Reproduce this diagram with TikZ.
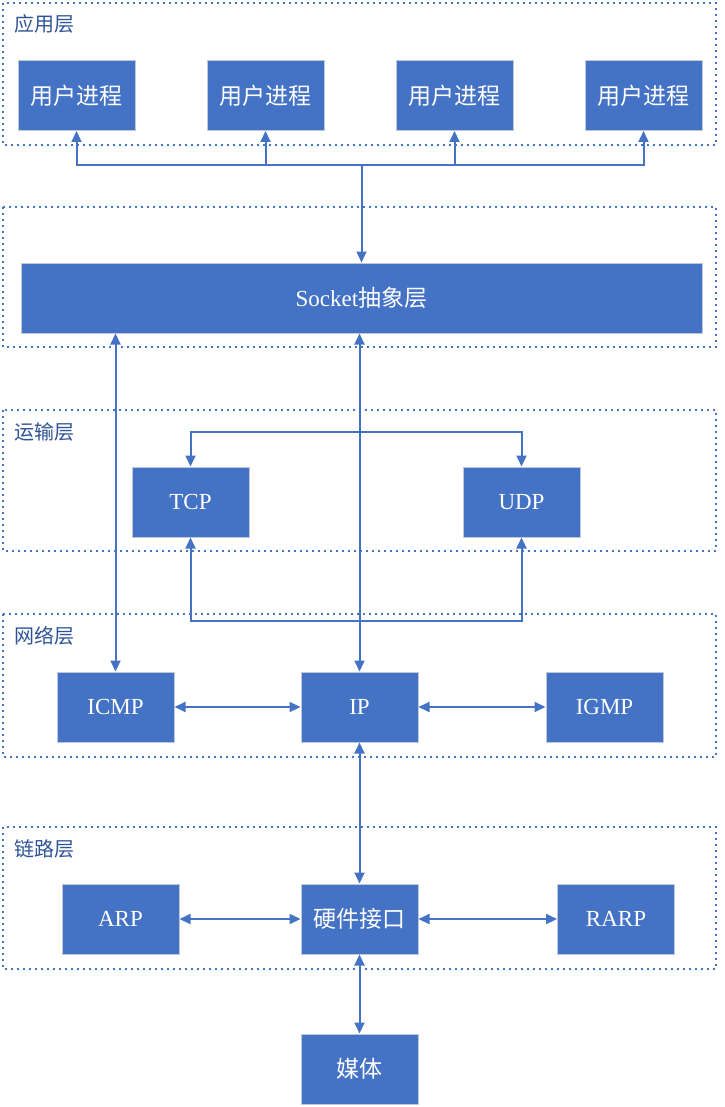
\documentclass[tikz,border=0pt]{standalone}
\usepackage{fontspec}
\setmainfont{Liberation Serif}
\newfontfamily\cjk{Noto Sans CJK SC}
\usetikzlibrary{arrows.meta}
\definecolor{bleu}{RGB}{68,114,196}
\definecolor{bord}{RGB}{190,200,215}
\definecolor{titre}{RGB}{47,84,150}
\tikzset{
	boite/.style={draw=bord, fill=bleu, line width=1pt, minimum width=117pt, minimum height=70pt, inner sep=0pt, text=white, font=\fontsize{23}{26}\selectfont},
	couche/.style={draw=bleu, line width=1.6pt, dash pattern=on 1.6pt off 4.4pt},
	titre/.style={anchor=west, text=titre, font=\cjk\fontsize{20}{22}\selectfont, inner sep=0pt},
	fl/.style={draw=bleu, line width=2pt, -{Triangle[length=11pt,width=10pt]}},
	dfl/.style={fl, {Triangle[length=11pt,width=10pt]}-{Triangle[length=11pt,width=10pt]}},
}
\begin{document}
\begin{tikzpicture}[x=1pt, y=-1pt]
	\useasboundingbox (0,0) rectangle (724,1107);
	% couches
	\draw[couche] (3,3) rectangle (716,145);
	\draw[couche] (3,207) rectangle (716,347);
	\draw[couche] (3,410) rectangle (716,551);
	\draw[couche] (3,614) rectangle (716,757);
	\draw[couche] (3,827) rectangle (716,969);
	\node[titre] (tapp) at (14,24) {应用层};
	\node[titre] (ttrans) at (14,432) {运输层};
	\node[titre] (tres) at (14,636) {网络层};
	\node[titre] (tlien) at (14,849) {链路层};
	% boites
	\node[boite] (p1) at (76.5,95.5) {\cjk 用户进程};
	\node[boite] (p2) at (265.5,95.5) {\cjk 用户进程};
	\node[boite] (p3) at (454.5,95.5) {\cjk 用户进程};
	\node[boite] (p4) at (643.5,95.5) {\cjk 用户进程};
	\node[boite, minimum width=681pt] (sock) at (361.5,298) {Socket{\cjk 抽象层}};
	\node[boite] (tcp) at (190.5,502) {TCP};
	\node[boite] (udp) at (521.5,502) {UDP};
	\node[boite] (icmp) at (115.5,707) {ICMP};
	\node[boite] (ip) at (359.5,707) {IP};
	\node[boite] (igmp) at (604.5,707) {IGMP};
	\node[boite] (arp) at (120.5,919) {ARP};
	\node[boite] (hw) at (359.5,919) {\cjk 硬件接口};
	\node[boite] (rarp) at (616,919) {RARP};
	\node[boite] (media) at (359.5,1069) {\cjk 媒体};
	% liaisons
	\coordinate (jtop) at (361.5,165);
	\coordinate (tj) at (361,432);
	\coordinate (bj) at (360,621);
	\draw[fl] (jtop) -- (sock.north);
	\draw[fl] (jtop) -| (p1.south);
	\draw[fl] (jtop) -| (p2.south);
	\draw[fl] (jtop) -| (p3.south);
	\draw[fl] (jtop) -| (p4.south);
	\draw[dfl] (icmp.north |- sock.south) -- (icmp.north);
	\draw[dfl] (ip.north |- sock.south) -- (ip.north);
	\draw[fl] (tj) -| (tcp.north);
	\draw[fl] (tj) -| (udp.north);
	\draw[fl] (bj) -| (tcp.south);
	\draw[fl] (bj) -| (udp.south);
	\draw[dfl] (icmp) -- (ip);
	\draw[dfl] (ip) -- (igmp);
	\draw[dfl] (ip) -- (hw);
	\draw[dfl] (arp) -- (hw);
	\draw[dfl] (hw) -- (rarp);
	\draw[dfl] (hw) -- (media);
\end{tikzpicture}
\end{document}
